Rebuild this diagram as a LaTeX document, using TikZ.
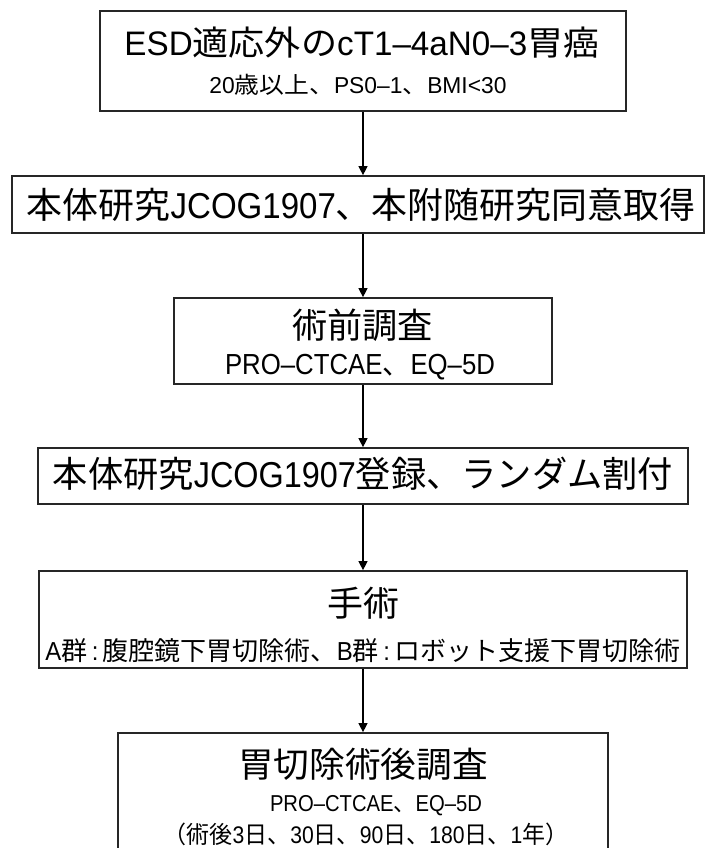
\documentclass[tikz,border=0pt]{standalone}
\usepackage{fontspec}
\usepackage{graphicx}
\setmainfont{Noto Sans CJK JP}
\newfontfamily\lat{Liberation Sans}[FakeStretch=0.92]
\newcommand\fitw[2]{\resizebox{#1pt}{\height}{#2}}
\usetikzlibrary{arrows.meta}
\begin{document}
\begin{tikzpicture}[x=1pt,y=-1pt,
  box/.style={draw=black!85,line width=1.7pt,inner sep=0pt,fill=white},
  txt/.style={inner sep=0pt,anchor=center,text=black},
  arr/.style={line width=1.2pt,-{Triangle[length=9pt,width=9pt]}}]
\useasboundingbox (0,0) rectangle (705,848);
% boxes
\node[box,minimum width=526pt,minimum height=100pt] (b1) at (363,61) {};
\node[box,minimum width=692pt,minimum height=57pt] (b2) at (358,204.5) {};
\node[box,minimum width=378pt,minimum height=86pt] (b3) at (363,341) {};
\node[box,minimum width=650pt,minimum height=56pt] (b4) at (363,476) {};
\node[box,minimum width=648pt,minimum height=97pt] (b5) at (363,619.5) {};
\node[box,minimum width=490pt,minimum height=124pt] (b6) at (363,795) {};
% texts
\node[txt,font=\fontsize{34}{34}\selectfont] (t1) at (362,43)
  {\fitw{475}{\lat ESD\rm 適応外の\lat cT1–4aN0–3\rm 胃癌}};
\node[txt,font=\fontsize{23}{23}\selectfont] (s1) at (358,85)
  {\fitw{297}{\lat 20\rm 歳以上、\lat PS0–1\rm 、\lat BMI<30}};
\node[txt,font=\fontsize{36}{36}\selectfont] (t2) at (361,204.5)
  {\fitw{668}{本体研究\lat JCOG1907\rm 、本附随研究同意取得}};
\node[txt,font=\fontsize{35}{35}\selectfont] (t3) at (362.5,325)
  {\fitw{141}{術前調査}};
\node[txt,font=\fontsize{29}{29}\selectfont] (s3) at (360,367)
  {\fitw{270}{\lat PRO–CTCAE\rm 、\lat EQ–5D}};
\node[txt,font=\fontsize{36}{36}\selectfont] (t4) at (363,474)
  {\fitw{620}{本体研究\lat JCOG1907\rm 登録、ランダム割付}};
\node[txt,font=\fontsize{35}{35}\selectfont] (t5) at (363,603)
  {\fitw{72}{手術}};
\node[txt,font=\fontsize{26}{26}\selectfont] (s5) at (363,651)
  {\fitw{635}{\lat A\rm 群\lat\,:\,\rm 腹腔鏡下胃切除術、\lat B\rm 群\lat\,:\,\rm ロボット支援下胃切除術}};
\node[txt,font=\fontsize{35}{35}\selectfont] (t6) at (363,764)
  {\fitw{250}{胃切除術後調査}};
\node[txt,font=\fontsize{23}{23}\selectfont] (s6) at (376,806)
  {\fitw{212}{\lat PRO–CTCAE\rm 、\lat EQ–5D}};
\node[txt,font=\fontsize{24}{24}\selectfont] (u6) at (366,834)
  {\fitw{405}{（術後\lat 3\rm 日、\lat 30\rm 日、\lat 90\rm 日、\lat 180\rm 日、\lat 1\rm 年）}};
% arrows
\draw[arr] (b1.south) -- (b1.south |- b2.north);
\draw[arr] (b1.south |- b2.south) -- (b3.north);
\draw[arr] (b3.south) -- (b4.north);
\draw[arr] (b4.south) -- (b5.north);
\draw[arr] (b5.south) -- (b6.north);
\end{tikzpicture}
\end{document}
